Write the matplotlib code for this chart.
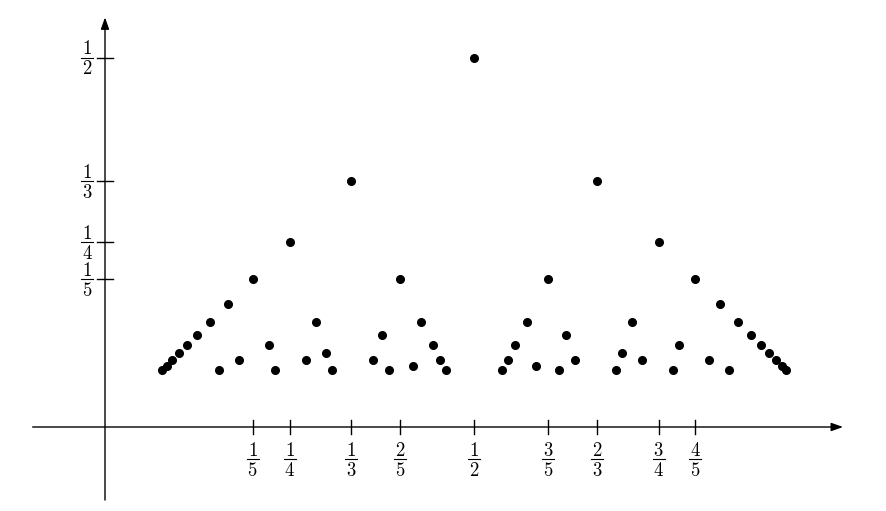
import matplotlib
matplotlib.use("Agg")
import matplotlib.pyplot as plt

plt.rcParams['mathtext.fontset'] = 'cm'

# points p/q of the plot (reduced fractions, denominators up to 13), height 1/q
numerators = [1,
              1, 2,
              1, 3,
              1, 2, 3, 4,
              1, 5,
              1, 2, 3, 4, 5, 6,
              1, 3, 5, 7,
              1, 2, 4, 5, 7, 8,
              1, 3, 7, 9,
              1, 2, 3, 4, 5, 6, 7, 8, 9, 10,
              1, 5, 7, 11,
              1, 2, 3, 4, 5, 6, 7, 8, 9, 10, 11, 12]
denominators = [2,
                3, 3,
                4, 4,
                5, 5, 5, 5,
                6, 6,
                7, 7, 7, 7, 7, 7,
                8, 8, 8, 8,
                9, 9, 9, 9, 9, 9,
                10, 10, 10, 10,
                11, 11, 11, 11, 11, 11, 11, 11, 11, 11,
                12, 12, 12, 12,
                13, 13, 13, 13, 13, 13, 13, 13, 13, 13, 13, 13]

xtick_num = [1, 1, 1, 2, 1, 3, 2, 3, 4]
xtick_den = [5, 4, 3, 5, 2, 5, 3, 4, 5]
ytick_num = [1, 1, 1, 1]
ytick_den = [2, 3, 4, 5]

xs = [p / q for p, q in zip(numerators, denominators)]
ys = [1 / q for q in denominators]

u = 1 / 738  # one pixel in data units

fig = plt.figure(figsize=(8.86, 5.11), dpi=100)
ax = fig.add_axes([0, 0, 1, 1])
ax.set_xlim(-105 * u, 781 * u)
ax.set_ylim(-84 * u, 427 * u)
ax.axis('off')

# axes with arrows
arrow = dict(arrowstyle='-|>,head_length=0.7,head_width=0.25', color='black', lw=1.0,
             shrinkA=0, shrinkB=0)
ax.annotate('', xy=(1.0, 0), xytext=(-0.098, 0), arrowprops=arrow)
ax.annotate('', xy=(0, 0.555), xytext=(0, -0.099), arrowprops=arrow)


def fraction(cx, by, p, q):
    # stacked fraction centred at cx with its bar at height by
    ax.plot([cx - 6 * u, cx + 6 * u], [by, by], color='black', lw=0.8)
    ax.text(cx, by + 3.5 * u, r'$%d$' % p, ha='center', va='baseline', fontsize=13.5)
    ax.text(cx, by - 16.5 * u, r'$%d$' % q, ha='center', va='baseline', fontsize=13.5)


# ticks and labels
t = 7 * u
for p, q in zip(xtick_num, xtick_den):
    x = p / q
    ax.plot([x, x], [-t, t], color='black', lw=1.0)
    fraction(x, -32 * u, p, q)
for p, q in zip(ytick_num, ytick_den):
    y = p / q
    ax.plot([-8 * u, 8 * u], [y, y], color='black', lw=1.0)
    fraction(-18 * u, y, p, q)

ax.plot(xs, ys, 'o', color='black', markersize=5.5, linestyle='none')

fig.savefig('out.png', dpi=100)
